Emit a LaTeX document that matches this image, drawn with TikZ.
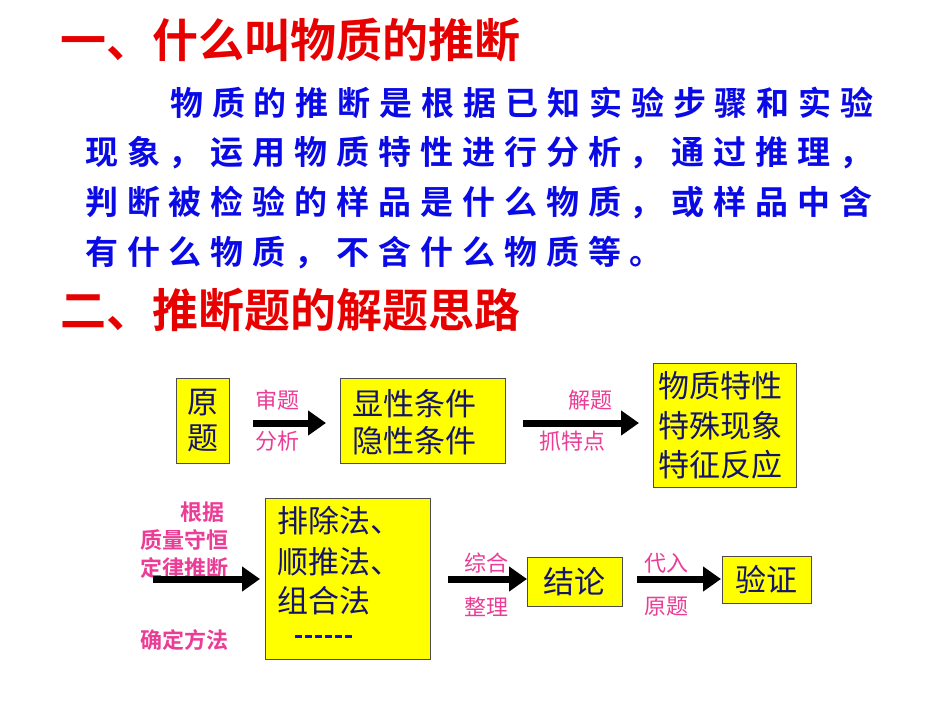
\documentclass[tikz,border=0pt]{standalone}
\usepackage{fontspec}
\setmainfont{Liberation Sans}
\newfontfamily\cjk{Noto Sans CJK SC}
\newfontfamily\cjkb{Noto Sans CJK SC Bold}
\usetikzlibrary{arrows.meta}
\definecolor{ttl}{RGB}{230,0,0}
\definecolor{bodyb}{RGB}{10,10,230}
\definecolor{navy}{RGB}{20,20,110}
\definecolor{pnk}{RGB}{235,60,150}
\definecolor{ybox}{RGB}{255,255,0}
\tikzset{
  ttltext/.style={anchor=west,text=ttl,font=\cjkb\fontsize{46}{50}\selectfont,inner sep=0},
  bodytext/.style={anchor=west,text=bodyb,font=\cjkb\fontsize{33}{36}\selectfont\addfontfeature{LetterSpace=27},inner sep=0},
  ybx/.style={draw=black!70,fill=ybox,line width=0.8pt},
  boxtext/.style={anchor=west,text=navy,font=\cjk\fontsize{31}{36}\selectfont,inner sep=0},
  lbl/.style={text=pnk,font=\cjk\fontsize{22}{24}\selectfont,inner sep=0},
  lblb/.style={text=pnk,font=\cjkb\fontsize{22}{24}\selectfont,inner sep=0},
  bigarrow/.style={line width=7pt,-{Triangle[length=18pt,width=24pt]}}
}
\begin{document}
\begin{tikzpicture}[x=1pt,y=-1pt]
\useasboundingbox (0,0) rectangle (950,713);
\node[ttltext] (t1) at (60,40) {一、什么叫物质的推断};
\node[bodytext] (l1) at (170,103) {物质的推断是根据已知实验步骤和实验};
\node[bodytext] (l2) at (85,153) {现象，运用物质特性进行分析，通过推理，};
\node[bodytext] (l3) at (85,203) {判断被检验的样品是什么物质，或样品中含};
\node[bodytext] (l4) at (85,253) {有什么物质，不含什么物质等。};
\node[ttltext] (t2) at (60,310) {二、推断题的解题思路};
% row 1
\node[ybx,minimum width=53pt,minimum height=85pt,anchor=north west,inner sep=0] (yt) at (176,378) {};
\node[boxtext,anchor=center,align=center] (ytt) at (yt.center) {原\\题};
\draw[ybx] (340,378) rectangle (505,463);
\node[boxtext] (c1) at (352,404) {显性条件};
\node[boxtext] (c2) at (352,441) {隐性条件};
\draw[ybx] (653,363) rectangle (796,487);
\node[boxtext] (w1) at (658,386) {物质特性};
\node[boxtext] (w2) at (658,426) {特殊现象};
\node[boxtext] (w3) at (658,465) {特征反应};
\coordinate (a1s) at (253,423); \coordinate (a1e) at (326,423);
\draw[bigarrow] (a1s) -- (a1e);
\node[lbl] (s1) at (277,400) {审题};
\node[lbl] (s2) at (277,441) {分析};
\coordinate (a2s) at (523,423); \coordinate (a2e) at (639,423);
\draw[bigarrow] (a2s) -- (a2e);
\node[lbl] (s3) at (590,400) {解题};
\node[lbl] (s4) at (572,441) {抓特点};
% row 2
\node[lblb] (g1) at (202,512) {根据};
\node[lblb] (g2) at (184,540) {质量守恒};
\node[lblb] (g3) at (184,568) {定律推断};
\node[lblb] (g4) at (184,640) {确定方法};
\coordinate (a3s) at (153,579); \coordinate (a3e) at (260,579);
\draw[bigarrow] (a3s) -- (a3e);
\draw[ybx] (265,498) rectangle (430,659);
\node[boxtext] (m1) at (277,521) {排除法、};
\node[boxtext] (m2) at (277,562) {顺推法、};
\node[boxtext] (m3) at (277,601) {组合法};
\coordinate (d1) at (295,636); \coordinate (d2) at (353,636);
\draw[bodyb,line width=3pt,dash pattern=on 7pt off 3pt] (d1) -- (d2);
\coordinate (a4s) at (448,579); \coordinate (a4e) at (527,579);
\draw[bigarrow] (a4s) -- (a4e);
\node[lbl] (s5) at (486,563) {综合};
\node[lbl] (s6) at (486,607) {整理};
\node[ybx,minimum width=95pt,minimum height=49pt,boxtext,anchor=center] (jl) at (574.5,581.5) {结论};
\coordinate (a5s) at (637,579); \coordinate (a5e) at (721,579);
\draw[bigarrow] (a5s) -- (a5e);
\node[lbl] (s7) at (666,563) {代入};
\node[lbl] (s8) at (666,607) {原题};
\node[ybx,minimum width=89pt,minimum height=47pt,boxtext,anchor=center] (yz) at (766.5,579.5) {验证};
\end{tikzpicture}
\end{document}
